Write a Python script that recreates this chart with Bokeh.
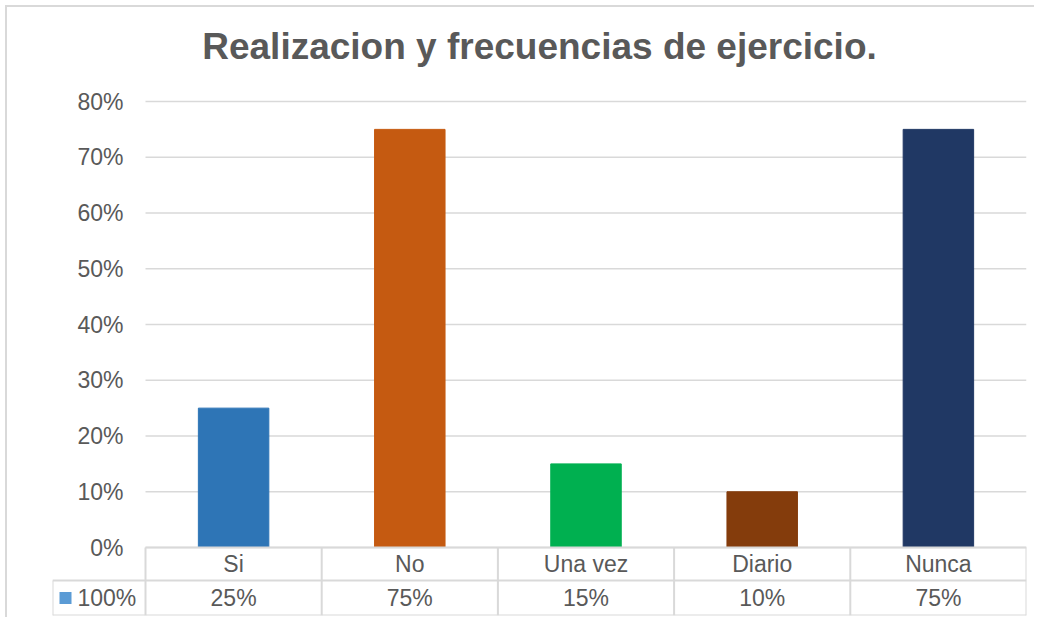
from bokeh.plotting import figure
from bokeh.models import Range1d, LinearAxis, FixedTicker, NumeralTickFormatter, ColumnDataSource
from bokeh.core.properties import value
from bokeh.embed import file_html
from bokeh.resources import INLINE

# ---- data ----
title_text = "Realizacion y frecuencias de ejercicio."
categories = ["Si", "No", "Una vez", "Diario", "Nunca"]
values = [0.25, 0.75, 0.15, 0.10, 0.75]
value_labels = ["25%", "75%", "15%", "10%", "75%"]
bar_colors = ["#2e75b6", "#c55a11", "#00b050", "#843c0c", "#203864"]
series_name = "100%"
y_ticks = [0, 0.1, 0.2, 0.3, 0.4, 0.5, 0.6, 0.7, 0.8]

# ---- layout constants (pixels) ----
FONT = "Liberation Sans"
GREY_TXT = "#595959"
LINE = "#d9d9d9"
OFF = 7                 # page offset of the figure content (margin + border)
W, H = 1036, 619
CAT_PX = 176.2          # width of one category in px
UNIT_PX = 557.5         # px per 1.0 on y
LEG_PX = 93             # legend cell width px
ROW1_PX = 33            # header row height px
ROW2_PX = 35            # value row height px
TOP_PAD_PX = 20

n = len(categories)
x_left = -LEG_PX / CAT_PX
row1 = -ROW1_PX / UNIT_PX
row2 = -(ROW1_PX + ROW2_PX) / UNIT_PX
y_top = max(y_ticks) + TOP_PAD_PX / UNIT_PX

frame_top = 101 - TOP_PAD_PX - OFF
p = figure(width=W - OFF, height=H - OFF, output_backend="svg", toolbar_location=None,
           x_range=Range1d(x_left, n), y_range=Range1d(row2, y_top),
           x_axis_location=None, y_axis_location=None,
           min_border_left=52 - OFF, min_border_right=W - 1026, min_border_top=frame_top,
           min_border_bottom=H - 615)
p.outline_line_color = None
p.xgrid.visible = False
p.ygrid.visible = False
p.background_fill_color = "white"
p.border_fill_color = "white"
p.styles = {"border-left": "2px solid #d9d9d9", "border-top": "2px solid #d9d9d9",
            "margin-left": "5px", "margin-top": "5px"}

p.title.text = title_text
p.title.text_font = FONT
p.title.text_font_size = "37px"
p.title.text_font_style = "bold"
p.title.text_color = GREY_TXT
p.title.align = "center"
p.title.standoff = 30
p.title.offset = 9

# y axis at the category start
yaxis = LinearAxis(fixed_location=0, bounds=(0, max(y_ticks)))
yaxis.ticker = FixedTicker(ticks=y_ticks)
yaxis.formatter = NumeralTickFormatter(format="0%")
yaxis.axis_line_color = None
yaxis.major_tick_line_color = None
yaxis.minor_tick_line_color = None
yaxis.major_label_standoff = 16
yaxis.major_label_text_font = FONT
yaxis.major_label_text_font_size = "23px"
yaxis.major_label_text_color = GREY_TXT
p.add_layout(yaxis, "left")

# gridlines
p.segment(x0=[0] * len(y_ticks), x1=[n] * len(y_ticks), y0=y_ticks, y1=y_ticks,
          line_color=LINE, line_width=1.3)

# bars
xs = [i + 0.5 for i in range(n)]
src = ColumnDataSource(dict(x=xs, top=values, color=bar_colors, cat=categories, lab=value_labels,
                            y1=[row1 / 2] * n, y2=[(row1 + row2) / 2] * n))
p.vbar(x="x", top="top", bottom=0, width=0.40, color="color", source=src)

# data table lines
hx0 = [0, x_left, x_left]
hx1 = [n, n, n]
hy = [0, row1, row2]
p.segment(x0=hx0, x1=hx1, y0=hy, y1=hy, line_color=LINE, line_width=2)
vx = list(range(n + 1)) + [x_left]
vy0 = [0] * (n + 1) + [row1]
p.segment(x0=vx, x1=vx, y0=vy0, y1=[row2] * (n + 2), line_color=LINE, line_width=2)

# table texts
p.text(x="x", y="y1", text="cat", source=src, text_align="center", text_baseline="middle",
       text_font=value(FONT), text_font_size="23px", text_color=GREY_TXT)
p.text(x="x", y="y2", text="lab", source=src, text_align="center", text_baseline="middle",
       text_font=value(FONT), text_font_size="23px", text_color=GREY_TXT)

# legend key in table
p.scatter(x=[x_left + 13 / CAT_PX], y=[(row1 + row2) / 2], marker="square", size=12,
          fill_color="#5b9bd5", line_color=None)
p.text(x=[x_left + 25 / CAT_PX], y=[(row1 + row2) / 2], text=[series_name], text_align="left",
       text_baseline="middle", text_font=value(FONT), text_font_size="23px", text_color=GREY_TXT)

open("out.html", "w").write(file_html(p, INLINE))
